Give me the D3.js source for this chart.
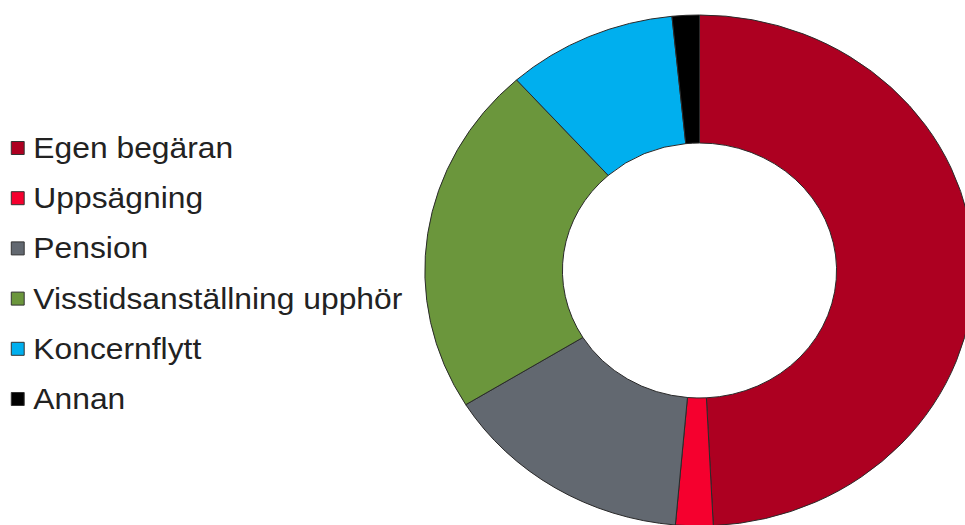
<!DOCTYPE html>
<html>
<head>
<meta charset="utf-8">
<script src="https://cdn.jsdelivr.net/npm/d3@7"></script>
<style>
  html, body { margin: 0; padding: 0; background: #ffffff; }
  svg { display: block; }
</style>
</head>
<body>
<svg id="chart" width="965" height="525"></svg>
<script>
// Reasons for leaving employment (share in percent)
const categories = [
  "Egen begäran",
  "Uppsägning",
  "Pension",
  "Visstidsanställning upphör",
  "Koncernflytt",
  "Annan"
];
const values = [49.2, 2.2, 14.8, 22.2, 10.0, 1.6];
const colors = ["#AD0021", "#F5002E", "#626870", "#6B963C", "#00AFEE", "#000000"];

const data = categories.map((c, i) => ({ name: c, value: values[i], color: colors[i] }));

const svg = d3.select("#chart");

// Donut, drawn slightly wider than tall
const cx = 699.5, cy = 270.5, rOuter = 255.5, rInner = 127.5, stretchX = 1.075;

const pie = d3.pie().sort(null).value(d => d.value).startAngle(0).endAngle(2 * Math.PI);
const arc = d3.arc().innerRadius(rInner).outerRadius(rOuter);

const donut = svg.append("g")
  .attr("transform", `translate(${cx},${cy}) scale(${stretchX},1)`);

donut.selectAll("path")
  .data(pie(data))
  .join("path")
  .attr("d", arc)
  .attr("fill", d => d.data.color)
  .attr("stroke", "#2a2a2a")
  .attr("stroke-width", 1)
  .attr("vector-effect", "non-scaling-stroke");

// Legend
const legend = svg.append("g")
  .attr("transform", `scale(${stretchX},1)`);

const rowY = d3.scalePoint().domain(categories).range([148, 399]);

const rows = legend.selectAll("g.row")
  .data(data)
  .join("g")
  .attr("class", "row")
  .attr("transform", d => `translate(0,${rowY(d.name)})`);

rows.append("rect")
  .attr("x", 10.5)
  .attr("y", -6.5)
  .attr("width", 12)
  .attr("height", 13)
  .attr("fill", d => d.color)
  .attr("stroke", "#333")
  .attr("stroke-width", 1)
  .attr("vector-effect", "non-scaling-stroke");

rows.append("text")
  .attr("x", 31)
  .attr("y", 10)
  .attr("font-family", "'Liberation Sans', Arial, sans-serif")
  .attr("font-size", 29.6)
  .attr("fill", "#222")
  .text(d => d.name);
</script>
</body>
</html>
